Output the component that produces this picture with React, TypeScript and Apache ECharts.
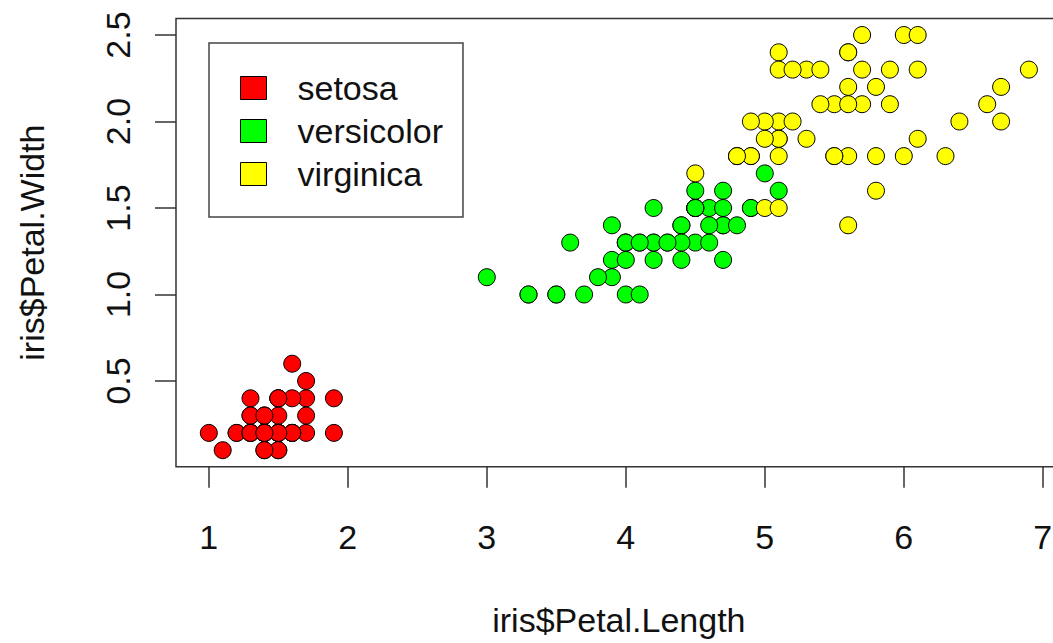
import React, { useEffect, useRef } from "react";
import * as echarts from "echarts";

const speciesNames = ["setosa", "versicolor", "virginica"];
const speciesColors = ["#FF0000", "#00FF00", "#FFFF00"];

const setosaLength = [1.4,1.4,1.3,1.5,1.4,1.7,1.4,1.5,1.4,1.5,1.5,1.6,1.4,1.1,1.2,1.5,1.3,1.4,1.7,1.5,1.7,1.5,1.0,1.7,1.9,1.6,1.6,1.5,1.4,1.6,1.6,1.5,1.5,1.4,1.5,1.2,1.3,1.4,1.3,1.5,1.3,1.3,1.3,1.6,1.9,1.4,1.6,1.4,1.5,1.4];
const setosaWidth = [0.2,0.2,0.2,0.2,0.2,0.4,0.3,0.2,0.2,0.1,0.2,0.2,0.1,0.1,0.2,0.4,0.4,0.3,0.3,0.3,0.2,0.4,0.2,0.5,0.2,0.2,0.4,0.2,0.2,0.2,0.2,0.4,0.1,0.2,0.2,0.2,0.2,0.1,0.2,0.2,0.3,0.3,0.2,0.6,0.4,0.3,0.2,0.2,0.2,0.2];
const versicolorLength = [4.7,4.5,4.9,4.0,4.6,4.5,4.7,3.3,4.6,3.9,3.5,4.2,4.0,4.7,3.6,4.4,4.5,4.1,4.5,3.9,4.8,4.0,4.9,4.7,4.3,4.4,4.8,5.0,4.5,3.5,3.8,3.7,3.9,5.1,4.5,4.5,4.7,4.4,4.1,4.0,4.4,4.6,4.0,3.3,4.2,4.2,4.2,4.3,3.0,4.1];
const versicolorWidth = [1.4,1.5,1.5,1.3,1.5,1.3,1.6,1.0,1.3,1.4,1.0,1.5,1.0,1.4,1.3,1.4,1.5,1.0,1.5,1.1,1.8,1.3,1.5,1.2,1.3,1.4,1.4,1.7,1.5,1.0,1.1,1.0,1.2,1.6,1.5,1.6,1.5,1.3,1.3,1.3,1.2,1.4,1.2,1.0,1.3,1.2,1.3,1.3,1.1,1.3];
const virginicaLength = [6.0,5.1,5.9,5.6,5.8,6.6,4.5,6.3,5.8,6.1,5.1,5.3,5.5,5.0,5.1,5.3,5.5,6.7,6.9,5.0,5.7,4.9,6.7,4.9,5.7,6.0,4.8,4.9,5.6,5.8,6.1,6.4,5.6,5.1,5.6,6.1,5.6,5.5,4.8,5.4,5.6,5.1,5.1,5.9,5.7,5.2,5.0,5.2,5.4,5.1];
const virginicaWidth = [2.5,1.9,2.1,1.8,2.2,2.1,1.7,1.8,1.8,2.5,2.0,1.9,2.1,2.0,2.4,2.3,1.8,2.2,2.3,1.5,2.3,2.0,2.0,1.8,2.1,1.8,1.8,1.8,2.1,1.6,1.9,2.0,2.2,1.5,1.4,2.3,2.4,1.8,1.8,2.1,2.4,2.3,1.9,2.3,2.5,2.3,1.9,2.0,2.3,1.8];

const xTicks = [1, 2, 3, 4, 5, 6, 7];
const yTicks = [0.5, 1.0, 1.5, 2.0, 2.5];
const xTitle = "iris$Petal.Length";
const yTitle = "iris$Petal.Width";

const pairs = (xs: number[], ys: number[]) => xs.map((x, i) => [x, ys[i]]);
const seriesData = [
  pairs(setosaLength, setosaWidth),
  pairs(versicolorLength, versicolorWidth),
  pairs(virginicaLength, virginicaWidth),
];

const FONT = "Liberation Sans, Arial, Helvetica, sans-serif";

export default function App() {
  const ref = useRef<HTMLDivElement>(null);
  useEffect(() => {
    if (!ref.current) return;
    const chart = echarts.init(ref.current, null, { renderer: "svg" });
    const xmin = 1 - 0.04 * 5.9;
    const xmax = 6.9 + 0.04 * 5.9;
    const ymin = 0.1 - 0.04 * 2.4;
    const ymax = 2.5 + 0.04 * 2.4;
    chart.setOption({
      animation: false,
      backgroundColor: "#ffffff",
      textStyle: { fontFamily: FONT },
      grid: {
        left: 176,
        top: 18.4,
        width: 885.7,
        height: 448.4,
        outerBoundsMode: "none",
        containLabel: false,
        show: true,
        borderColor: "#333333",
        borderWidth: 1.5,
        backgroundColor: "transparent",
      },
      legend: {
        orient: "vertical",
        left: 209,
        top: 43,
        data: speciesNames,
        icon: "rect",
        itemWidth: 26,
        itemHeight: 23,
        itemGap: 3,
        padding: [25, 20, 23, 31],
        borderColor: "#444444",
        borderWidth: 1.5,
        backgroundColor: "#ffffff",
        itemStyle: { borderColor: "#000000", borderWidth: 1 },
        textStyle: {
          fontFamily: FONT,
          fontSize: 34,
          color: "#111111",
          lineHeight: 40,
          padding: [0, 0, 0, 26],
        },
      },
      xAxis: {
        type: "value",
        min: xmin,
        max: xmax,
        name: xTitle,
        nameLocation: "middle",
        nameGap: 136,
        nameTextStyle: { fontFamily: FONT, fontSize: 34, color: "#111111" },
        axisLine: { show: false },
        splitLine: { show: false },
        axisTick: {
          show: true,
          length: 21,
          customValues: xTicks,
          lineStyle: { color: "#333333", width: 1.5 },
        },
        axisLabel: {
          customValues: xTicks,
          margin: 53,
          fontFamily: FONT,
          fontSize: 34,
          color: "#111111",
          formatter: (v: number) => String(v),
        },
      },
      yAxis: {
        type: "value",
        min: ymin,
        max: ymax,
        name: yTitle,
        nameLocation: "middle",
        nameGap: 127,
        nameRotate: 90,
        nameTextStyle: { fontFamily: FONT, fontSize: 34, color: "#111111" },
        axisLine: { show: false },
        splitLine: { show: false },
        axisTick: {
          show: true,
          length: 21,
          customValues: yTicks,
          lineStyle: { color: "#333333", width: 1.5 },
        },
        axisLabel: {
          customValues: yTicks,
          rotate: 90,
          margin: 41,
          fontFamily: FONT,
          fontSize: 34,
          color: "#111111",
          formatter: (v: number) => v.toFixed(1),
        },
      },
      series: speciesNames.map((name, i) => ({
        name,
        type: "scatter",
        data: seriesData[i],
        symbol: "circle",
        symbolSize: 17,
        itemStyle: {
          color: speciesColors[i],
          borderColor: "#000000",
          borderWidth: 1,
          opacity: 1,
        },
        emphasis: { disabled: true },
      })),
    });
    return () => chart.dispose();
  }, []);
  return (
    <div
      ref={ref}
      style={{ position: "fixed", left: 0, top: 0, width: 1053, height: 643 }}
    />
  );
}
